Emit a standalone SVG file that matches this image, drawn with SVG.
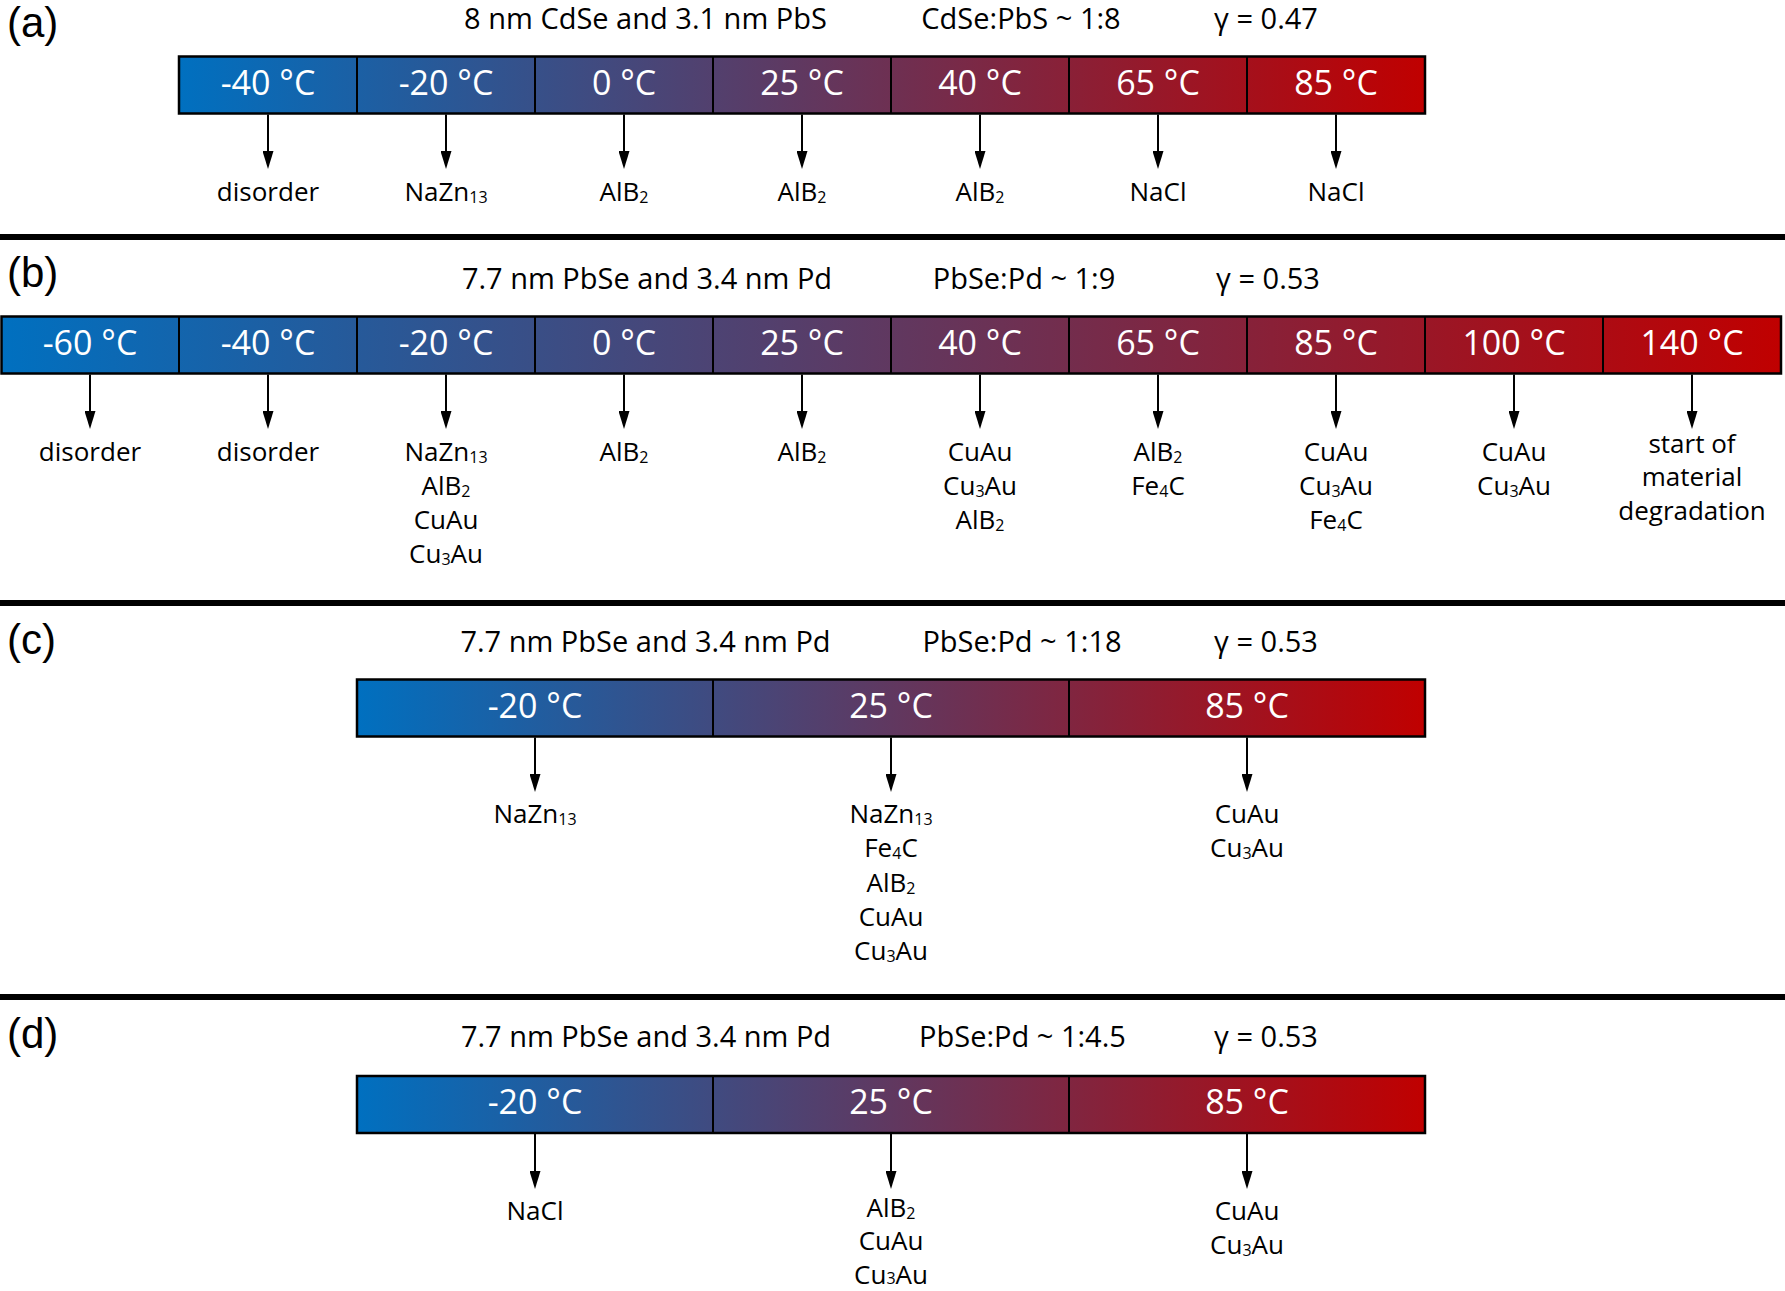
<svg xmlns="http://www.w3.org/2000/svg" width="1785" height="1291" viewBox="0 0 1785 1291">
<style>
.hdr{font-family:"Open Sans","Liberation Sans",sans-serif;font-size:29px;fill:#000;text-anchor:middle}
.pl{font-family:"Liberation Sans",Arial,sans-serif;font-size:42px;fill:#000}
.tc{font-family:"Open Sans","Liberation Sans",sans-serif;font-size:34px;fill:#fff;text-anchor:middle}
.ph{font-family:"Open Sans","Liberation Sans",sans-serif;font-size:26px;fill:#000;text-anchor:middle}
.sub{font-size:16px}
.bar{fill:url(#grad);stroke:#000;stroke-width:2.5}
.div{stroke:#000;stroke-width:2}
.sep{stroke:#000;stroke-width:6}
.arr{stroke:#000;stroke-width:2;fill:none;marker-end:url(#ah)}
</style>
<defs>
<linearGradient id="grad" x1="0" y1="0" x2="1" y2="0">
<stop offset="0" stop-color="#0070C0"/>
<stop offset="1" stop-color="#C00000"/>
</linearGradient>
<marker id="ah" viewBox="0 0 18 11" refX="1" refY="5.5" markerWidth="18" markerHeight="11" markerUnits="userSpaceOnUse" orient="auto">
<path d="M0,0 L18,5.5 L0,11 z" fill="#000"/>
</marker>
</defs>
<rect x="0" y="0" width="1785" height="1291" fill="#fff"/>

<g id="separators">
<line class="sep" x1="0" y1="237" x2="1785" y2="237"/>
<line class="sep" x1="0" y1="603" x2="1785" y2="603"/>
<line class="sep" x1="0" y1="997" x2="1785" y2="997"/>
</g>

<!-- Panel A -->
<g id="panel-a-header">
<text class="pl" x="7" y="37">(a)</text>
<text class="hdr" x="645.5" y="29">8 nm CdSe and 3.1 nm PbS</text>
<text class="hdr" x="1021" y="29">CdSe:PbS ~ 1:8</text>
<text class="hdr" x="1266" y="29">γ = 0.47</text>
</g>
<g id="panel-a-bar">
<rect class="bar" x="179" y="56.5" width="1246" height="57"/>
<line class="div" x1="357" y1="56.5" x2="357" y2="113.5"/>
<line class="div" x1="535" y1="56.5" x2="535" y2="113.5"/>
<line class="div" x1="713" y1="56.5" x2="713" y2="113.5"/>
<line class="div" x1="891" y1="56.5" x2="891" y2="113.5"/>
<line class="div" x1="1069" y1="56.5" x2="1069" y2="113.5"/>
<line class="div" x1="1247" y1="56.5" x2="1247" y2="113.5"/>
</g>
<g id="a-t1"><text class="tc" x="268" y="95">-40 °C</text></g>
<g id="a-t2"><text class="tc" x="446" y="95">-20 °C</text></g>
<g id="a-t3"><text class="tc" x="624" y="95">0 °C</text></g>
<g id="a-t4"><text class="tc" x="802" y="95">25 °C</text></g>
<g id="a-t5"><text class="tc" x="980" y="95">40 °C</text></g>
<g id="a-t6"><text class="tc" x="1158" y="95">65 °C</text></g>
<g id="a-t7"><text class="tc" x="1336" y="95">85 °C</text></g>
<g id="a-p1"><text class="ph" x="268" y="201">disorder</text></g>
<g id="a-p2"><text class="ph" x="446" y="201">NaZn<tspan class="sub" dy="2">13</tspan></text></g>
<g id="a-p3"><text class="ph" x="624" y="201">AlB<tspan class="sub" dy="2">2</tspan></text></g>
<g id="a-p4"><text class="ph" x="802" y="201">AlB<tspan class="sub" dy="2">2</tspan></text></g>
<g id="a-p5"><text class="ph" x="980" y="201">AlB<tspan class="sub" dy="2">2</tspan></text></g>
<g id="a-p6"><text class="ph" x="1158" y="201">NaCl</text></g>
<g id="a-p7"><text class="ph" x="1336" y="201">NaCl</text></g>

<!-- Panel B -->
<g id="panel-b-header">
<text class="pl" x="7" y="287">(b)</text>
<text class="hdr" x="647" y="289">7.7 nm PbSe and 3.4 nm Pd</text>
<text class="hdr" x="1024" y="289">PbSe:Pd ~ 1:9</text>
<text class="hdr" x="1268" y="289">γ = 0.53</text>
</g>
<g id="panel-b-bar">
<rect class="bar" x="1.5" y="316.5" width="1779.5" height="57"/>
<line class="div" x1="179" y1="316.5" x2="179" y2="373.5"/>
<line class="div" x1="357" y1="316.5" x2="357" y2="373.5"/>
<line class="div" x1="535" y1="316.5" x2="535" y2="373.5"/>
<line class="div" x1="713" y1="316.5" x2="713" y2="373.5"/>
<line class="div" x1="891" y1="316.5" x2="891" y2="373.5"/>
<line class="div" x1="1069" y1="316.5" x2="1069" y2="373.5"/>
<line class="div" x1="1247" y1="316.5" x2="1247" y2="373.5"/>
<line class="div" x1="1425" y1="316.5" x2="1425" y2="373.5"/>
<line class="div" x1="1603" y1="316.5" x2="1603" y2="373.5"/>
</g>
<g id="b-t1"><text class="tc" x="90" y="354.5">-60 °C</text></g>
<g id="b-t2"><text class="tc" x="268" y="354.5">-40 °C</text></g>
<g id="b-t3"><text class="tc" x="446" y="354.5">-20 °C</text></g>
<g id="b-t4"><text class="tc" x="624" y="354.5">0 °C</text></g>
<g id="b-t5"><text class="tc" x="802" y="354.5">25 °C</text></g>
<g id="b-t6"><text class="tc" x="980" y="354.5">40 °C</text></g>
<g id="b-t7"><text class="tc" x="1158" y="354.5">65 °C</text></g>
<g id="b-t8"><text class="tc" x="1336" y="354.5">85 °C</text></g>
<g id="b-t9"><text class="tc" x="1514" y="354.5">100 °C</text></g>
<g id="b-t10"><text class="tc" x="1692" y="354.5">140 °C</text></g>
<g id="b-p1"><text class="ph" x="90" y="461">disorder</text></g>
<g id="b-p2"><text class="ph" x="268" y="461">disorder</text></g>
<g id="b-p3">
<text class="ph" x="446" y="461">NaZn<tspan class="sub" dy="2">13</tspan></text>
<text class="ph" x="446" y="495">AlB<tspan class="sub" dy="2">2</tspan></text>
<text class="ph" x="446" y="529">CuAu</text>
<text class="ph" x="446" y="563">Cu<tspan class="sub" dy="2">3</tspan><tspan dy="-2">Au</tspan></text>
</g>
<g id="b-p4"><text class="ph" x="624" y="461">AlB<tspan class="sub" dy="2">2</tspan></text></g>
<g id="b-p5"><text class="ph" x="802" y="461">AlB<tspan class="sub" dy="2">2</tspan></text></g>
<g id="b-p6">
<text class="ph" x="980" y="461">CuAu</text>
<text class="ph" x="980" y="495">Cu<tspan class="sub" dy="2">3</tspan><tspan dy="-2">Au</tspan></text>
<text class="ph" x="980" y="529">AlB<tspan class="sub" dy="2">2</tspan></text>
</g>
<g id="b-p7">
<text class="ph" x="1158" y="461">AlB<tspan class="sub" dy="2">2</tspan></text>
<text class="ph" x="1158" y="495">Fe<tspan class="sub" dy="2">4</tspan><tspan dy="-2">C</tspan></text>
</g>
<g id="b-p8">
<text class="ph" x="1336" y="461">CuAu</text>
<text class="ph" x="1336" y="495">Cu<tspan class="sub" dy="2">3</tspan><tspan dy="-2">Au</tspan></text>
<text class="ph" x="1336" y="529">Fe<tspan class="sub" dy="2">4</tspan><tspan dy="-2">C</tspan></text>
</g>
<g id="b-p9">
<text class="ph" x="1514" y="461">CuAu</text>
<text class="ph" x="1514" y="495">Cu<tspan class="sub" dy="2">3</tspan><tspan dy="-2">Au</tspan></text>
</g>
<g id="b-p10">
<text class="ph" x="1692" y="452.5">start of</text>
<text class="ph" x="1692" y="486">material</text>
<text class="ph" x="1692" y="519.5">degradation</text>
</g>

<!-- Panel C -->
<g id="panel-c-header">
<text class="pl" x="7" y="654">(c)</text>
<text class="hdr" x="645.5" y="652">7.7 nm PbSe and 3.4 nm Pd</text>
<text class="hdr" x="1022" y="652">PbSe:Pd ~ 1:18</text>
<text class="hdr" x="1266" y="652">γ = 0.53</text>
</g>
<g id="panel-c-bar">
<rect class="bar" x="357" y="679.5" width="1068" height="57"/>
<line class="div" x1="713" y1="679.5" x2="713" y2="736.5"/>
<line class="div" x1="1069" y1="679.5" x2="1069" y2="736.5"/>
</g>
<g id="c-t1"><text class="tc" x="535" y="717.5">-20 °C</text></g>
<g id="c-t2"><text class="tc" x="891" y="717.5">25 °C</text></g>
<g id="c-t3"><text class="tc" x="1247" y="717.5">85 °C</text></g>
<g id="c-p1"><text class="ph" x="535" y="823">NaZn<tspan class="sub" dy="2">13</tspan></text></g>
<g id="c-p2">
<text class="ph" x="891" y="823">NaZn<tspan class="sub" dy="2">13</tspan></text>
<text class="ph" x="891" y="857.3">Fe<tspan class="sub" dy="2">4</tspan><tspan dy="-2">C</tspan></text>
<text class="ph" x="891" y="891.6">AlB<tspan class="sub" dy="2">2</tspan></text>
<text class="ph" x="891" y="925.9">CuAu</text>
<text class="ph" x="891" y="960.2">Cu<tspan class="sub" dy="2">3</tspan><tspan dy="-2">Au</tspan></text>
</g>
<g id="c-p3">
<text class="ph" x="1247" y="823">CuAu</text>
<text class="ph" x="1247" y="857.3">Cu<tspan class="sub" dy="2">3</tspan><tspan dy="-2">Au</tspan></text>
</g>

<!-- Panel D -->
<g id="panel-d-header">
<text class="pl" x="7" y="1048">(d)</text>
<text class="hdr" x="646" y="1047">7.7 nm PbSe and 3.4 nm Pd</text>
<text class="hdr" x="1022.5" y="1047">PbSe:Pd ~ 1:4.5</text>
<text class="hdr" x="1266" y="1047">γ = 0.53</text>
</g>
<g id="panel-d-bar">
<rect class="bar" x="357" y="1076" width="1068" height="57"/>
<line class="div" x1="713" y1="1076" x2="713" y2="1133"/>
<line class="div" x1="1069" y1="1076" x2="1069" y2="1133"/>
</g>
<g id="d-t1"><text class="tc" x="535" y="1114">-20 °C</text></g>
<g id="d-t2"><text class="tc" x="891" y="1114">25 °C</text></g>
<g id="d-t3"><text class="tc" x="1247" y="1114">85 °C</text></g>
<g id="d-p1"><text class="ph" x="535" y="1220">NaCl</text></g>
<g id="d-p2">
<text class="ph" x="891" y="1216.5">AlB<tspan class="sub" dy="2">2</tspan></text>
<text class="ph" x="891" y="1250">CuAu</text>
<text class="ph" x="891" y="1283.5">Cu<tspan class="sub">3</tspan>Au</text>
</g>
<g id="d-p3">
<text class="ph" x="1247" y="1220">CuAu</text>
<text class="ph" x="1247" y="1253.5">Cu<tspan class="sub" dy="2">3</tspan><tspan dy="-2">Au</tspan></text>
</g>

<g id="connectors">
<line class="arr" x1="268" y1="114.5" x2="268" y2="152"/>
<line class="arr" x1="446" y1="114.5" x2="446" y2="152"/>
<line class="arr" x1="624" y1="114.5" x2="624" y2="152"/>
<line class="arr" x1="802" y1="114.5" x2="802" y2="152"/>
<line class="arr" x1="980" y1="114.5" x2="980" y2="152"/>
<line class="arr" x1="1158" y1="114.5" x2="1158" y2="152"/>
<line class="arr" x1="1336" y1="114.5" x2="1336" y2="152"/>

<line class="arr" x1="90" y1="374.5" x2="90" y2="412"/>
<line class="arr" x1="268" y1="374.5" x2="268" y2="412"/>
<line class="arr" x1="446" y1="374.5" x2="446" y2="412"/>
<line class="arr" x1="624" y1="374.5" x2="624" y2="412"/>
<line class="arr" x1="802" y1="374.5" x2="802" y2="412"/>
<line class="arr" x1="980" y1="374.5" x2="980" y2="412"/>
<line class="arr" x1="1158" y1="374.5" x2="1158" y2="412"/>
<line class="arr" x1="1336" y1="374.5" x2="1336" y2="412"/>
<line class="arr" x1="1514" y1="374.5" x2="1514" y2="412"/>
<line class="arr" x1="1692" y1="374.5" x2="1692" y2="412"/>

<line class="arr" x1="535" y1="737.5" x2="535" y2="775"/>
<line class="arr" x1="891" y1="737.5" x2="891" y2="775"/>
<line class="arr" x1="1247" y1="737.5" x2="1247" y2="775"/>

<line class="arr" x1="535" y1="1134" x2="535" y2="1172"/>
<line class="arr" x1="891" y1="1134" x2="891" y2="1172"/>
<line class="arr" x1="1247" y1="1134" x2="1247" y2="1172"/>
</g>
</svg>
